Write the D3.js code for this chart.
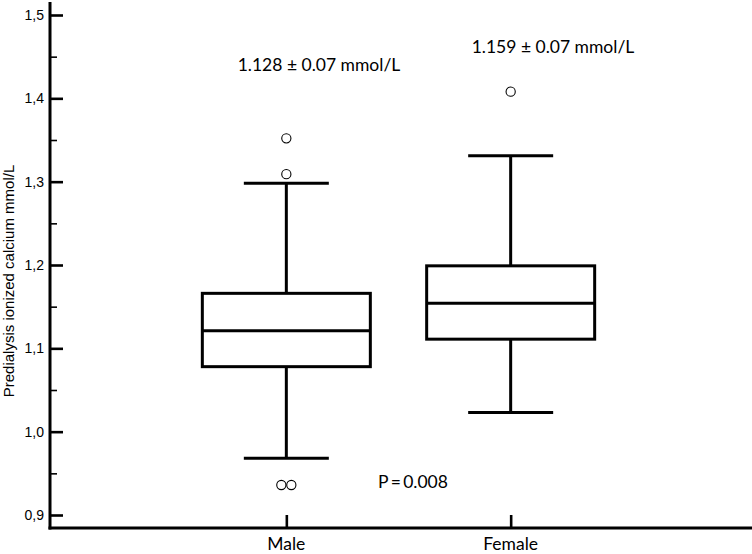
<!DOCTYPE html>
<html>
<head>
<meta charset="utf-8">
<script src="https://cdn.jsdelivr.net/npm/d3@7"></script>
<style>
  body { margin: 0; background: #fff; }
  svg { display: block; }
</style>
</head>
<body>
<svg></svg>
<script>
// box plot data
var groups = ['Male', 'Female'];
var q1 = [1.078, 1.111];
var median = [1.121, 1.154];
var q3 = [1.166, 1.199];
var whiskerLow = [0.968, 1.023];
var whiskerHigh = [1.298, 1.331];
var outliers = [[1.352, 1.309, 0.936, 0.936], [1.408]];
var meanLabels = ['1.128 \u00b1 0.07 mmol/L', '1.159 \u00b1 0.07 mmol/L'];
var majorTicks = [0.9, 1.0, 1.1, 1.2, 1.3, 1.4, 1.5];
var minorTicks = [0.95, 1.05, 1.15, 1.25, 1.35, 1.45];

var width = 752;
var height = 554;
var axisX = 50;
var axisY = 528;
var labelFont = "'Lato', 'Open Sans', sans-serif";

update();

function update() {
    var svg = d3.select('svg')
        .attr('width', width)
        .attr('height', height)
        .attr('viewBox', '0 0 ' + width + ' ' + height);

    svg.append('rect')
        .attr('width', width)
        .attr('height', height)
        .attr('fill', '#fff');

    var y = d3.scaleLinear().domain([0.9, 1.5]).range([515, 15]);
    var x = d3.scalePoint().domain(groups).range([62, 735]).padding(1);

    var rows = groups.map(function (g, i) {
        return {
            name: g, q1: q1[i], median: median[i], q3: q3[i],
            lo: whiskerLow[i], hi: whiskerHigh[i], out: outliers[i], label: meanLabels[i]
        };
    });

    // y axis: ticks on the right of the line, labels on the left
    var gy = svg.append('g').attr('transform', 'translate(' + axisX + ',0)');

    gy.append('g')
        .call(d3.axisRight(y).tickValues(majorTicks).tickSize(13).tickFormat(''))
        .call(function (g) { g.select('.domain').remove(); })
        .selectAll('line').attr('stroke', '#000').attr('stroke-width', 2.6);

    gy.append('g')
        .call(d3.axisRight(y).tickValues(minorTicks).tickSize(7).tickFormat(''))
        .call(function (g) { g.select('.domain').remove(); })
        .selectAll('line').attr('stroke', '#000').attr('stroke-width', 1.6);

    gy.append('g')
        .call(d3.axisLeft(y).tickValues(majorTicks).tickSize(0).tickPadding(6)
            .tickFormat(function (d) { return d3.format('.1f')(d).replace('.', ','); }))
        .call(function (g) { g.select('.domain').remove(); })
        .selectAll('text')
        .attr('fill', '#000')
        .style('font-family', "'Liberation Sans', Arial, sans-serif")
        .style('font-size', '14px');

    svg.append('line')
        .attr('x1', axisX).attr('x2', axisX)
        .attr('y1', 2).attr('y2', axisY + 1.5)
        .attr('stroke', '#000').attr('stroke-width', 3);

    svg.append('text')
        .attr('transform', 'translate(14,' + 281 + ') rotate(-90)')
        .attr('text-anchor', 'middle')
        .attr('fill', '#000')
        .style('font-family', "'Liberation Sans', Arial, sans-serif")
        .style('font-size', '15px')
        .text('Predialysis ionized calcium mmol/L');

    // x axis
    svg.append('g')
        .attr('transform', 'translate(0,' + axisY + ')')
        .call(d3.axisTop(x).tickSize(13).tickFormat(''))
        .call(function (g) { g.select('.domain').remove(); })
        .selectAll('line').attr('stroke', '#000').attr('stroke-width', 2.6);

    svg.append('line')
        .attr('x1', axisX - 1.5).attr('x2', width)
        .attr('y1', axisY).attr('y2', axisY)
        .attr('stroke', '#000').attr('stroke-width', 3);

    svg.selectAll('text.cat')
        .data(groups)
        .enter()
        .append('text')
        .attr('class', 'cat')
        .attr('x', function (d) { return x(d); })
        .attr('y', 550)
        .attr('text-anchor', 'middle')
        .attr('fill', '#000')
        .style('font-family', labelFont)
        .style('font-size', '17.5px')
        .text(function (d) { return d; });

    // boxes
    var boxHalf = 84;
    var capHalf = 42.5;
    var box = svg.selectAll('g.box')
        .data(rows)
        .enter()
        .append('g')
        .attr('class', 'box')
        .attr('transform', function (d) { return 'translate(' + x(d.name) + ',0)'; });

    box.append('line')
        .attr('x1', 0).attr('x2', 0)
        .attr('y1', function (d) { return y(d.hi); })
        .attr('y2', function (d) { return y(d.q3); })
        .attr('stroke', '#000').attr('stroke-width', 3);

    box.append('line')
        .attr('x1', 0).attr('x2', 0)
        .attr('y1', function (d) { return y(d.q1); })
        .attr('y2', function (d) { return y(d.lo); })
        .attr('stroke', '#000').attr('stroke-width', 3);

    box.selectAll('line.cap')
        .data(function (d) { return [d.hi, d.lo]; })
        .enter()
        .append('line')
        .attr('class', 'cap')
        .attr('x1', -capHalf).attr('x2', capHalf)
        .attr('y1', function (v) { return y(v); })
        .attr('y2', function (v) { return y(v); })
        .attr('stroke', '#000').attr('stroke-width', 3);

    box.append('rect')
        .attr('x', -boxHalf)
        .attr('width', boxHalf * 2)
        .attr('y', function (d) { return y(d.q3); })
        .attr('height', function (d) { return y(d.q1) - y(d.q3); })
        .attr('fill', 'none')
        .attr('stroke', '#000').attr('stroke-width', 3);

    box.append('line')
        .attr('x1', -boxHalf).attr('x2', boxHalf)
        .attr('y1', function (d) { return y(d.median); })
        .attr('y2', function (d) { return y(d.median); })
        .attr('stroke', '#000').attr('stroke-width', 3);

    // outliers; equal values are set side by side
    box.selectAll('circle')
        .data(function (d) {
            return d.out.map(function (v, i) {
                var same = d.out.filter(function (w) { return w === v; });
                var k = d.out.slice(0, i).filter(function (w) { return w === v; }).length;
                return { v: v, dx: (k - (same.length - 1) / 2) * 10 };
            });
        })
        .enter()
        .append('circle')
        .attr('cx', function (p) { return p.dx; })
        .attr('cy', function (p) { return y(p.v); })
        .attr('r', 4.6)
        .attr('fill', '#fff')
        .attr('stroke', '#000').attr('stroke-width', 1.1);

    // annotations
    svg.append('text')
        .attr('x', 319).attr('y', 71)
        .attr('text-anchor', 'middle')
        .attr('fill', '#000')
        .style('font-family', labelFont)
        .style('font-size', '17.5px')
        .text(rows[0].label);

    svg.append('text')
        .attr('x', 553).attr('y', 53)
        .attr('text-anchor', 'middle')
        .attr('fill', '#000')
        .style('font-family', labelFont)
        .style('font-size', '17.5px')
        .text(rows[1].label);

    svg.append('text')
        .attr('x', 413).attr('y', 488)
        .attr('text-anchor', 'middle')
        .attr('fill', '#000')
        .style('font-family', labelFont)
        .style('font-size', '17.5px')
        .text('P\u2009=\u20090.008');
}
</script>
</body>
</html>
